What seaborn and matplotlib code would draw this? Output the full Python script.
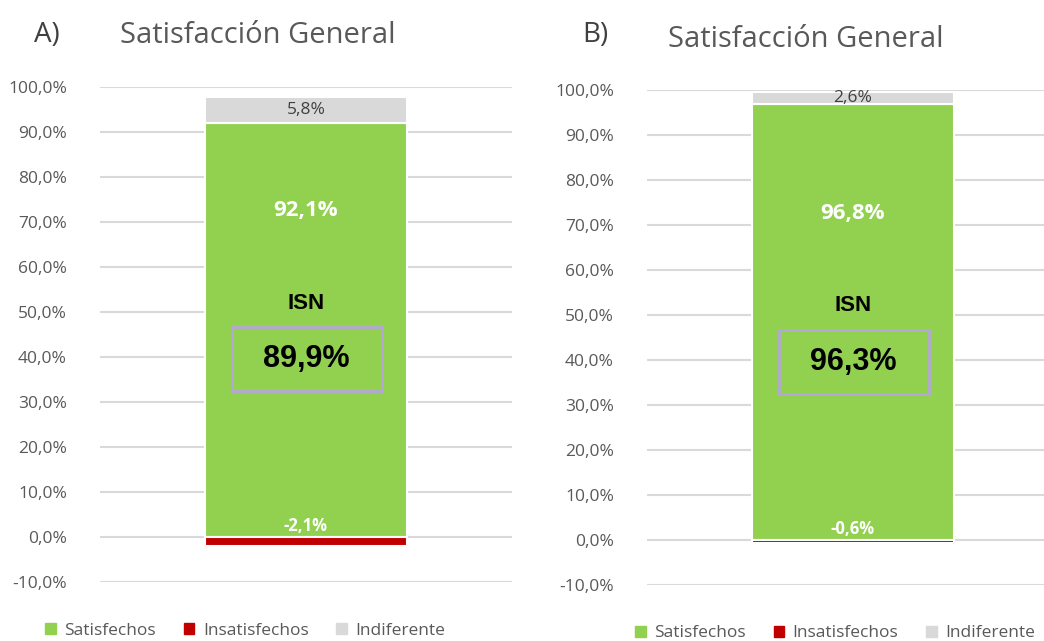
import matplotlib
matplotlib.use("Agg")
import matplotlib.pyplot as plt
import seaborn as sns
import pandas as pd
from matplotlib.patches import Rectangle, Patch

# Datos de los dos paneles (A y B)
paneles = ['A)', 'B)']
satisfechos = [92.1, 96.8]
insatisfechos = [-2.1, -0.6]
indiferente = [5.8, 2.6]
isn = [89.9, 96.3]

colores = {
    'Satisfechos': '#92D050',
    'Insatisfechos': '#C00000',
    'Indiferente': '#D9D9D9'
}

sns.set_theme(style='white')
plt.rcParams['font.family'] = ['Open Sans', 'DejaVu Sans']

fig = plt.figure(figsize=(10.44, 6.41), dpi=100)
ax_a = fig.add_axes([0.096, 0.092, 0.394, 0.772])
ax_b = fig.add_axes([0.620, 0.087, 0.394, 0.773])

def fmt(v):
    return f"{v:.1f}%".replace('.', ',')

def dibujar_panel(ax, i):
    df = pd.DataFrame({'x': ['g'], 'sat': [satisfechos[i]], 'ins': [insatisfechos[i]],
                       'ind': [indiferente[i]]})
    # barras apiladas
    sns.barplot(data=df, x='x', y='sat', color=colores['Satisfechos'], width=0.49,
                edgecolor='white', linewidth=1.5, saturation=1, ax=ax)
    sns.barplot(data=df, x='x', y='ins', color=colores['Insatisfechos'], width=0.49,
                edgecolor='white', linewidth=1.5, saturation=1, ax=ax)
    sns.barplot(data=df, x='x', y='ind', bottom=satisfechos[i], color=colores['Indiferente'],
                width=0.49, edgecolor='white', linewidth=1.5, saturation=1, ax=ax)

    ax.set_xlim(-0.5, 0.5)
    ax.set_ylim(-10, 100)
    ax.set_yticks(range(-10, 101, 10))
    ax.set_yticklabels([fmt(t) for t in range(-10, 101, 10)], color='#595959', fontsize=12.5)
    ax.set_xticks([])
    ax.set_xlabel('')
    ax.set_ylabel('')
    ax.tick_params(axis='y', length=0, pad=24)
    ax.grid(axis='y', color='#D9D9D9', linewidth=1.5)
    ax.set_axisbelow(True)
    for s in ax.spines.values():
        s.set_visible(False)

    # etiquetas de datos
    ax.text(0, satisfechos[i] + indiferente[i] / 2, fmt(indiferente[i]), ha='center', va='center',
            color='#404040', fontsize=12.5)
    ax.text(0, 72.5, fmt(satisfechos[i]), ha='center', va='center', color='white',
            fontsize=16, fontweight='bold')
    ax.text(0, 2.4, fmt(insatisfechos[i]), ha='center', va='center', color='white',
            fontsize=12, fontweight='bold')

    # ISN
    ax.text(0, 52, 'ISN', ha='center', va='center', color='black', fontsize=16,
            fontweight='bold', family=['Liberation Sans'])
    ax.text(0, 39.5, fmt(isn[i]), ha='center', va='center', color='black', fontsize=22,
            fontweight='bold', family=['Liberation Sans'])
    ax.add_patch(Rectangle((-0.18, 32.4), 0.364, 14.2, fill=False, edgecolor='#B4A7D6', linewidth=2))

dibujar_panel(ax_a, 0)
dibujar_panel(ax_b, 1)

# títulos
fig.text(0.033, 0.945, 'A)', fontsize=20, color='#404040', va='center')
fig.text(0.115, 0.945, 'Satisfacción General', fontsize=21, color='#595959', va='center')
fig.text(0.558, 0.945, 'B)', fontsize=20, color='#404040', va='center')
fig.text(0.64, 0.938, 'Satisfacción General', fontsize=21, color='#595959', va='center')

# leyendas
handles = [Patch(color=c, label=k) for k, c in colores.items()]
for cx, cy in [(0.235, 0.016), (0.8, 0.012)]:
    fig.legend(handles=handles, loc='center', bbox_to_anchor=(cx, cy), ncol=3, frameon=False,
               handlelength=0.6, handleheight=0.6, handletextpad=0.5, columnspacing=1.6,
               fontsize=12.5, labelcolor='#595959')

fig.savefig('out.png', dpi=100)
